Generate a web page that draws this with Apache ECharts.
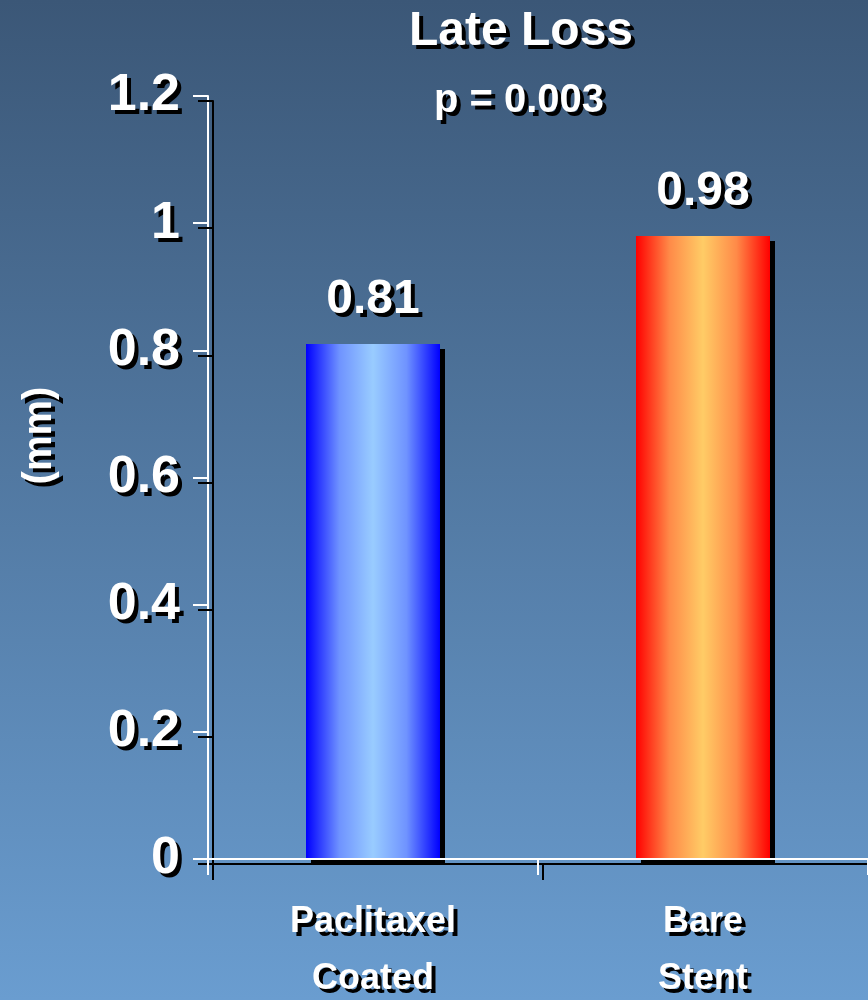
<!DOCTYPE html>
<html>
<head>
<meta charset="utf-8">
<script src="https://cdn.jsdelivr.net/npm/echarts@6/dist/echarts.min.js"></script>
<style>
  html, body { margin: 0; padding: 0; }
  #chart { width: 868px; height: 1000px; }
</style>
</head>
<body>
<div id="chart"></div>
<script>
// data
const categories = ['Paclitaxel\nCoated', 'Bare\nStent']
const lateLoss = [0.81, 0.98]
const barEdgeColors = ['#0000ff', '#ff0000']
const barShoulderColors = ['#6f93ff', '#ff8a48']
const barMidColors = ['#99ccff', '#ffcc66']

const font = 'Liberation Sans, Arial, sans-serif'
const shadow = {
  textShadowColor: '#000',
  textShadowBlur: 0.01,
  textShadowOffsetX: 4,
  textShadowOffsetY: 4
}
const lineShadow = {
  shadowColor: '#000',
  shadowBlur: 0,
  shadowOffsetX: 5,
  shadowOffsetY: 5
}

const chart = echarts.init(document.getElementById('chart'))

chart.setOption({
  animation: false,
  backgroundColor: new echarts.graphic.LinearGradient(0, 0, 0, 1, [
    { offset: 0, color: '#3b5777' },
    { offset: 1, color: '#6a9dd0' }
  ]),
  title: [
    {
      text: 'Late Loss',
      left: 516,
      top: 3,
      textAlign: 'center',
      textStyle: Object.assign({ color: '#fff', fontSize: 48, fontWeight: 'bold', fontFamily: font }, shadow)
    },
    {
      text: 'p = 0.003',
      left: 514,
      top: 76,
      textAlign: 'center',
      textStyle: Object.assign({ color: '#fff', fontSize: 40, fontWeight: 'bold', fontFamily: font }, shadow)
    }
  ],
  grid: {
    left: 208,
    right: 0,
    top: 96,
    bottom: 141,
    outerBoundsMode: 'none'
  },
  xAxis: {
    type: 'category',
    data: categories,
    z: 5,
    axisLine: { lineStyle: Object.assign({ color: '#fff', width: 2 }, lineShadow) },
    axisTick: {
      show: true,
      length: 16,
      alignWithLabel: false,
      lineStyle: Object.assign({ color: '#fff', width: 2 }, lineShadow)
    },
    axisLabel: Object.assign({
      color: '#fff',
      fontSize: 36,
      fontWeight: 'bold',
      fontFamily: font,
      lineHeight: 57,
      margin: 35,
      interval: 0
    }, shadow)
  },
  yAxis: {
    type: 'value',
    min: 0,
    max: 1.2,
    interval: 0.2,
    z: 5,
    name: '(mm)',
    nameLocation: 'middle',
    nameRotate: 90,
    nameGap: 148,
    nameTextStyle: Object.assign({
      color: '#fff',
      fontSize: 40,
      fontWeight: 'bold',
      fontFamily: font,
      padding: [0, 0, 0, 84]
    }, shadow),
    splitLine: { show: false },
    axisLine: { show: true, lineStyle: Object.assign({ color: '#fff', width: 2 }, lineShadow) },
    axisTick: {
      show: true,
      length: 15,
      lineStyle: Object.assign({ color: '#fff', width: 2 }, lineShadow)
    },
    axisLabel: Object.assign({
      color: '#fff',
      fontSize: 52,
      fontWeight: 'bold',
      fontFamily: font,
      margin: 28
    }, shadow)
  },
  series: [{
    type: 'bar',
    barWidth: 134,
    z: 2,
    data: lateLoss.map((v, i) => ({
      value: v,
      itemStyle: {
        color: new echarts.graphic.LinearGradient(0, 0, 1, 0, [
          { offset: 0, color: barEdgeColors[i] },
          { offset: 0.25, color: barShoulderColors[i] },
          { offset: 0.5, color: barMidColors[i] },
          { offset: 0.75, color: barShoulderColors[i] },
          { offset: 1, color: barEdgeColors[i] }
        ]),
        shadowColor: '#000',
        shadowBlur: 0,
        shadowOffsetX: 5,
        shadowOffsetY: 5
      }
    })),
    label: Object.assign({
      show: true,
      position: 'top',
      distance: 20,
      color: '#fff',
      fontSize: 48,
      fontWeight: 'bold',
      fontFamily: font
    }, shadow)
  }]
})
</script>
</body>
</html>
